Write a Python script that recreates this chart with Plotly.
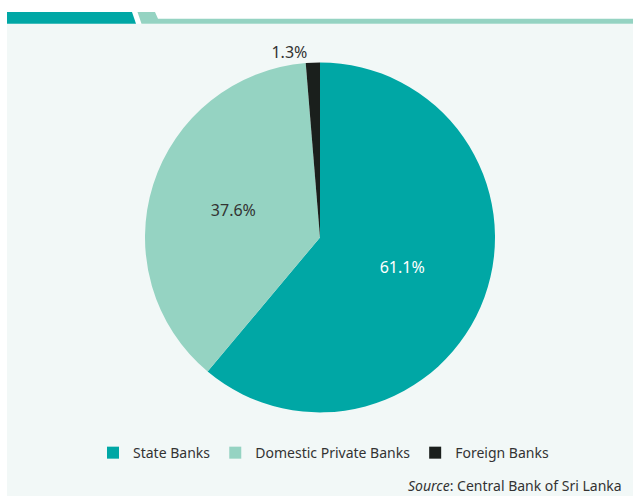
import plotly.graph_objects as go

W, H = 633, 496

labels = ["State Banks", "Domestic Private Banks", "Foreign Banks"]
values = [61.1, 37.6, 1.3]
colors = ["#00a7a5", "#95d3c2", "#1a1f1c"]
text_positions = ["inside", "inside", "outside"]
text_colors = ["#ffffff", "#333333", "#333333"]

FONT = "Noto Sans, Lato, sans-serif"

def px(x):
    return x / W

def py(y):
    return 1 - y / H

fig = go.Figure()
fig.add_trace(go.Pie(
    labels=labels,
    values=values,
    sort=False,
    direction="clockwise",
    rotation=0,
    marker=dict(colors=colors, line=dict(width=0)),
    texttemplate="%{value:.1f}%",
    textposition=text_positions,
    insidetextorientation="horizontal",
    textfont=dict(family=FONT, size=16, color=text_colors),
    outsidetextfont=dict(family=FONT, size=16, color="#333333"),
    hoverinfo="label+percent",
    domain=dict(x=[px(145), px(495)], y=[py(428), py(34)]),
))

shapes = [
    # panel background
    dict(type="rect", xref="paper", yref="paper", x0=px(7), x1=1, y0=0, y1=py(12),
         fillcolor="#f2f8f7", line=dict(width=0), layer="below"),
    # teal header tab
    dict(type="path", xref="paper", yref="paper",
         path=f"M {px(7)},{py(0)} L {px(132)},{py(0)} L {px(136)},{py(12)} L {px(7)},{py(12)} Z",
         fillcolor="#00a7a5", line=dict(width=0), layer="below"),
    # light green slanted tab + rule
    dict(type="path", xref="paper", yref="paper",
         path=f"M {px(137.5)},{py(0)} L {px(155)},{py(0)} L {px(158)},{py(7)} L {px(633)},{py(7)} "
              f"L {px(633)},{py(12)} L {px(141.5)},{py(12)} Z",
         fillcolor="#95d3c2", line=dict(width=0), layer="below"),
]

fig.update_layout(
    width=W, height=H,
    margin=dict(l=0, r=0, t=0, b=0),
    paper_bgcolor="#ffffff",
    plot_bgcolor="#ffffff",
    font=dict(family=FONT, color="#333333"),
    shapes=shapes,
    showlegend=True,
    legend=dict(
        orientation="h",
        x=px(93), xanchor="left",
        y=py(452), yanchor="middle",
        font=dict(family=FONT, size=14, color="#333333"),
        bgcolor="rgba(0,0,0,0)",
        traceorder="normal",
    ),
    annotations=[
        dict(text="<i>Source</i>: Central Bank of Sri Lanka", xref="paper", yref="paper",
             x=px(624), y=py(485), xanchor="right", yanchor="middle", showarrow=False,
             font=dict(family=FONT, size=14, color="#333333")),
    ],
)

fig.write_html("out.html", post_script="document.body.style.margin='0px';",
               config={"displayModeBar": False})
